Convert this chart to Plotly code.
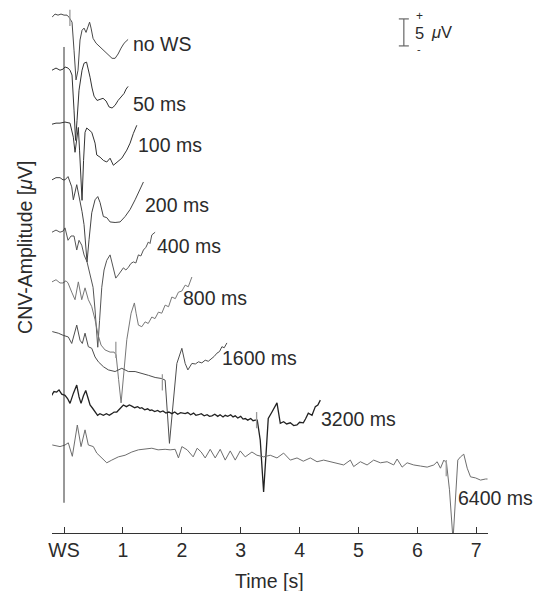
import plotly.graph_objects as go

# ---------------- data (time in ms, amplitude in microvolts) ----------------
labels = ["no WS", "50 ms", "100 ms", "200 ms", "400 ms", "800 ms", "1600 ms", "3200 ms", "6400 ms"]
offsets_uv = [95.7, 85.7, 75.7, 65.6, 55.9, 46.3, 37.2, 25.7, 16.1]
colors = ["#4a4a4a", "#333333", "#333333", "#444444", "#555555", "#777777", "#4d4d4d", "#222222", "#6e6e6e"]
widths = [1, 1, 1, 1, 1, 1, 1, 1.3, 1]

t_nows = [-204, -153, -102, -51, 0, 51, 85, 136, 170, 204, 238, 272, 306, 340, 374, 408, 434, 459, 493, 544,
          612, 680, 748, 816, 867, 918, 969, 1020, 1088]
a_nows = [-0.2, 0.4, 0.2, 0.4, 0.2, 0.2, -0.2, -1.1, -6.3, -11.8, -10.0, -4.4, -2.6, -2.2, -3.0, -1.7, -1.1, -2.2,
          -4.1, -5.0, -5.7, -6.5, -7.2, -7.8, -7.8, -7.0, -5.9, -5.0, -4.3]

t_50 = [-204, -136, -68, -17, 17, 68, 102, 136, 170, 196, 221, 255, 306, 340, 383, 408, 442, 476, 510, 561,
        612, 663, 714, 765, 816, 867, 918, 969, 1020, 1054, 1088]
a_50 = [0, 0.4, 0, 0.2, 0.6, 0.4, 0, -0.9, -7.4, -13.0, -9.3, -3.7, 0, 1.3, 1.5, 0.4, -1.3, -3.3, -4.8, -5.6,
        -5.4, -5.2, -5.7, -6.8, -7.0, -6.5, -5.6, -5.0, -4.3, -3.5, -3.0]

t_100 = [-204, -136, -68, 17, 102, 158, 187, 213, 243, 264, 289, 306, 332, 357, 386, 425, 471, 527, 556, 612,
         668, 726, 782, 838, 896, 981, 1066, 1122, 1178, 1236]
a_100 = [0, 0.2, 0.2, 0.4, 0.2, -2.4, -5.2, -3.0, -0.6, -4.8, -12.2, -14.1, -6.7, -1.5, -0.7, -1.1, -1.5, -3.5,
         -5.7, -6.1, -6.7, -7.0, -6.3, -7.6, -7.0, -6.3, -4.8, -3.5, -1.7, -0.2]

t_200 = [-204, -136, -68, -17, 17, 68, 131, 158, 216, 272, 306, 340, 366, 391, 425, 471, 527, 573, 612, 668,
         726, 782, 867, 952, 1037, 1122, 1207, 1263, 1348]
a_200 = [-0.2, 0.2, 0.2, -0.2, -0.2, 0.4, -1.5, -3.9, -1.1, -3.9, -6.1, -8.5, -12.2, -15.4, -11.3, -6.3, -3.9,
         -3.3, -4.4, -7.0, -7.2, -8.0, -8.1, -8.0, -7.0, -5.7, -3.9, -2.6, -0.6]

t_400 = [-204, -136, -68, -17, 17, 68, 119, 170, 216, 255, 301, 340, 391, 442, 493, 527, 573, 604, 641, 680,
         726, 782, 838, 879, 923, 1008, 1050, 1093, 1135, 1178, 1220, 1263, 1305, 1348, 1390, 1433, 1460, 1491,
         1547]
a_400 = [-0.2, 0.2, -0.2, 0, 0.6, -1.7, -0.9, -0.9, -3.5, -1.7, -2.6, -4.4, -5.7, -8.1, -10.4, -14.6, -21.5,
         -16.5, -10.4, -7.2, -5.4, -4.4, -6.7, -8.7, -8.1, -6.8, -7.2, -6.7, -6.0, -5.7, -5.9, -4.4, -4.6, -3.5,
         -3.0, -2.0, -2.3, -0.7, -0.2]

t_800 = [-204, -136, -68, -17, 34, 68, 131, 187, 243, 301, 357, 413, 471, 527, 578, 629, 697, 782, 850, 884,
         927, 969, 1020, 1066, 1139, 1195, 1224, 1263, 1321, 1377, 1430, 1491, 1545, 1603, 1660, 1717, 1775,
         1831, 1890, 1943, 2000, 2057, 2110, 2171]
a_800 = [0.2, 0.6, 0, 0, 0.4, 0, -1.7, -3.1, 0.2, -3.1, -0.9, -3.1, -4.4, -6.8, -9.6, -11.5, -12.4, -12.8,
         -12.8, -13.3, -17.9, -22.2, -16.1, -10.5, -5.6, -3.7, -5.6, -7.8, -8.1, -7.2, -7.5, -6.3, -6.6, -5.4,
         -5.6, -4.1, -4.4, -2.6, -2.9, -1.7, -1.5, -0.4, -0.7, 1.1]

t_1600 = [-199, -97, -12, 73, 131, 216, 272, 311, 357, 413, 471, 527, 583, 668, 753, 867, 981, 1093, 1207,
          1321, 1433, 1547, 1661, 1717, 1751, 1790, 1819, 1858, 1916, 2001, 2057, 2103, 2171, 2230, 2283, 2340,
          2397, 2450, 2511, 2550, 2596, 2640, 2681, 2720, 2766]
a_1600 = [0.1, -0.2, -0.6, -0.9, -2.1, 1.3, -1.5, -2.1, -0.2, -2.7, -3.0, -4.6, -5.5, -6.4, -7.0, -7.3, -6.7,
          -7.3, -7.3, -7.6, -8.0, -8.4, -8.6, -8.9, -14.4, -20.6, -17.2, -12.6, -5.8, -3.0, -5.8, -7.0, -5.8,
          -5.9, -5.5, -5.7, -5.2, -5.4, -4.9, -4.5, -3.9, -3.6, -2.7, -2.9, -2.0]

t_3200 = [-209, -170, -124, -85, -39, 17, 60, 102, 160, 216, 255, 289, 330, 369, 410, 442, 485, 527, 570, 610,
          668, 720, 770, 811, 850, 896, 950, 1008, 1060, 1110, 1151, 1200, 1250, 1290, 1321, 1370, 1420, 1460,
          1491, 1540, 1590, 1632, 1680, 1730, 1780, 1831, 1880, 1930, 1980, 2057, 2100, 2150, 2200, 2240, 2283,
          2330, 2380, 2430, 2470, 2511, 2560, 2610, 2650, 2700, 2737, 2780, 2830, 2870, 2907, 2950, 3000, 3040,
          3077, 3120, 3170, 3210, 3247, 3281, 3332, 3389, 3434, 3468, 3531, 3616, 3672, 3729, 3780, 3842, 3900,
          3956, 4000, 4063, 4100, 4148, 4211, 4267, 4310, 4352]
a_3200 = [-0.2, 0.5, 0.4, 0.8, 0.0, -0.2, -0.8, -1.7, 0.2, 1.7, -0.5, -1.7, -0.3, 0.7, -0.8, -2.0, -2.6, -3.3,
          -3.9, -3.6, -3.9, -3.6, -3.9, -3.6, -3.3, -3.3, -2.6, -2.0, -2.3, -2.0, -2.2, -2.5, -2.3, -2.6, -2.5,
          -2.9, -2.7, -3.0, -2.9, -3.2, -3.0, -3.3, -3.1, -3.5, -3.3, -3.6, -3.3, -3.7, -3.4, -3.6, -3.4, -3.8,
          -3.5, -3.9, -3.8, -3.6, -4.0, -3.8, -4.1, -4.0, -3.7, -4.1, -3.8, -4.2, -3.9, -4.1, -3.8, -4.2, -4.0,
          -4.4, -4.1, -4.6, -4.5, -4.8, -4.5, -4.9, -4.8, -4.8, -8.5, -18.1, -10.4, -4.5, -3.3, -1.6, -5.4, -5.1,
          -5.5, -5.3, -5.8, -5.7, -5.2, -5.3, -4.6, -3.5, -3.9, -2.3, -2.0, -1.1]

t_6400 = [-199, -68, 17, 73, 141, 226, 289, 357, 413, 498, 556, 641, 726, 811, 923, 1037, 1151, 1263, 1377,
          1491, 1598, 1717, 1802, 1887, 1943, 2001, 2091, 2193, 2261, 2329, 2397, 2482, 2567, 2652, 2737, 2822,
          2907, 2992, 3077, 3191, 3276, 3389, 3502, 3616, 3729, 3842, 3956, 4063, 4182, 4296, 4409, 4522, 4636,
          4749, 4862, 4918, 5032, 5146, 5258, 5372, 5486, 5598, 5656, 5741, 5826, 5938, 6053, 6166, 6279, 6336,
          6392, 6449, 6494, 6545, 6605, 6647, 6686, 6732, 6788, 6846, 6902, 6987, 7072, 7157, 7191]
a_6400 = [0.2, -0.1, 0.2, 0.6, -1.9, 3.9, -0.1, 3.0, 0.2, -0.1, -1.3, -2.2, -3.1, -2.6, -2.0, -1.7, -1.1, -0.7,
          -0.6, -0.4, -0.7, -0.6, -0.7, -0.6, -2.2, -0.1, -0.7, -2.0, -0.4, -1.1, -2.2, -0.6, -2.2, -0.6, -2.6,
          -0.9, -2.6, -0.9, -2.0, -1.1, -1.7, -2.0, -1.7, -2.2, -1.3, -2.6, -2.2, -2.8, -2.2, -2.9, -2.6, -2.9,
          -3.1, -3.5, -2.6, -3.8, -2.9, -3.5, -2.6, -3.1, -2.9, -3.5, -2.4, -3.9, -3.1, -3.5, -3.7, -3.9, -3.5,
          -2.9, -4.1, -2.6, -3.1, -8.1, -17.4, -10.0, -2.6, -2.0, -1.5, -4.1, -5.7, -5.9, -6.3, -6.1, -6.1]

# stimulus markers: trace index, time (ms), level (uV relative to that trace)
marker_trace = [0, 5, 6, 7, 8]
marker_t = [100, 880, 1670, 3270, 6490]
marker_uv = [-0.3, -12.4, -9.3, -4.8, -4.1]
marker_half_uv = 1.5

# label positions (s, uV above the time axis)
label_t = [1.14, 1.14, 1.23, 1.34, 1.545, 1.98, 2.645, 4.33, 6.655]
label_uv = [90.6, 79.4, 71.8, 60.7, 53.1, 43.5, 32.4, 21.2, 6.4]

tick_vals = [0, 1, 2, 3, 4, 5, 6, 7]
tick_text = ["WS", "1", "2", "3", "4", "5", "6", "7"]

scale_bar_uv = 5
scale_bar_t = 5.77
scale_bar_bottom_uv = 90.2
yaxis_line_uv = (5.6, 90.0)

series_t = [t_nows, t_50, t_100, t_200, t_400, t_800, t_1600, t_3200, t_6400]
series_a = [a_nows, a_50, a_100, a_200, a_400, a_800, a_1600, a_3200, a_6400]

# ---------------- figure ----------------
FONT = "Liberation Sans, Arial, Helvetica, sans-serif"
TXT = "#2b2b2b"
FS = 19.5
fig = go.Figure()

for t, a, off, col, w in zip(series_t, series_a, offsets_uv, colors, widths):
    fig.add_trace(go.Scatter(x=[v / 1000 for v in t], y=[v + off for v in a], mode="lines",
                             line=dict(color=col, width=w), hoverinfo="skip", showlegend=False))

mx, my = [], []
for k, tm, lv in zip(marker_trace, marker_t, marker_uv):
    c = offsets_uv[k] + lv
    mx += [tm / 1000, tm / 1000, None]
    my += [c - marker_half_uv, c + marker_half_uv, None]
fig.add_trace(go.Scatter(x=mx, y=my, mode="lines", line=dict(color="#9a9a9a", width=1.3),
                         hoverinfo="skip", showlegend=False))

annotations = []
for lab, lt, lu in zip(labels, label_t, label_uv):
    annotations.append(dict(x=lt, y=lu, xref="x", yref="y", text=lab, showarrow=False,
                            xanchor="left", yanchor="middle", font=dict(size=FS, color=TXT, family=FONT)))

# y-axis title
annotations.append(dict(x=-0.062, y=0.5448, xref="paper", yref="paper", text="CNV-Amplitude [<i>μ</i>V]",
                        textangle=-90, showarrow=False, xanchor="center", yanchor="middle",
                        font=dict(size=FS, color=TXT, family=FONT)))
# x-axis title
annotations.append(dict(x=3.49, y=-0.0914, xref="x", yref="paper", text="Time [s]", showarrow=False,
                        xanchor="center", yanchor="middle", font=dict(size=FS, color=TXT, family=FONT)))

# scale bar texts
sb_top = scale_bar_bottom_uv + scale_bar_uv
annotations.append(dict(x=scale_bar_t + 0.27, y=sb_top + 0.5, xref="x", yref="y", text="+", showarrow=False,
                        font=dict(size=12, color=TXT, family=FONT)))
annotations.append(dict(x=scale_bar_t + 0.265, y=scale_bar_bottom_uv + scale_bar_uv / 2 - 0.1, xref="x",
                        yref="y", text="5", showarrow=False, font=dict(size=16.5, color=TXT, family=FONT)))
annotations.append(dict(x=scale_bar_t + 0.26, y=scale_bar_bottom_uv - 0.5, xref="x", yref="y", text="-",
                        showarrow=False, font=dict(size=11, color=TXT, family=FONT)))
annotations.append(dict(x=scale_bar_t + 0.43, y=scale_bar_bottom_uv + scale_bar_uv / 2, xref="x", yref="y",
                        text="<i>μ</i>V", showarrow=False, xanchor="left",
                        font=dict(size=16.5, color=TXT, family=FONT)))

shapes = [
    dict(type="line", xref="x", yref="y", x0=0, x1=0, y0=yaxis_line_uv[0], y1=yaxis_line_uv[1],
         line=dict(color="#333333", width=1)),
    dict(type="line", xref="x", yref="y", x0=scale_bar_t, x1=scale_bar_t, y0=scale_bar_bottom_uv, y1=sb_top,
         line=dict(color="#666666", width=1.2)),
    dict(type="line", xref="x", yref="y", x0=scale_bar_t - 0.085, x1=scale_bar_t + 0.085,
         y0=scale_bar_bottom_uv, y1=scale_bar_bottom_uv, line=dict(color="#666666", width=1.2)),
    dict(type="line", xref="x", yref="y", x0=scale_bar_t - 0.085, x1=scale_bar_t + 0.085,
         y0=sb_top, y1=sb_top, line=dict(color="#666666", width=1.2)),
]

fig.update_layout(
    width=533, height=591,
    margin=dict(l=52, r=45, t=8, b=58),
    paper_bgcolor="white", plot_bgcolor="white",
    xaxis=dict(range=[-0.204, 7.199], showgrid=False, zeroline=False, showline=True, linecolor="#333333",
               linewidth=1, ticks="inside", ticklen=6, tickcolor="#333333", tickvals=tick_vals,
               ticktext=tick_text, tickfont=dict(size=FS, color=TXT, family=FONT)),
    yaxis=dict(range=[0, 97.22], showgrid=False, zeroline=False, showline=False, showticklabels=False,
               ticks=""),
    annotations=annotations,
    shapes=shapes,
)

# remove the browser's default page margin so the figure fills the window exactly
fig.write_html("out.html", config={"displayModeBar": False},
               post_script="document.body.style.margin='0px';document.body.style.overflow='hidden';")
